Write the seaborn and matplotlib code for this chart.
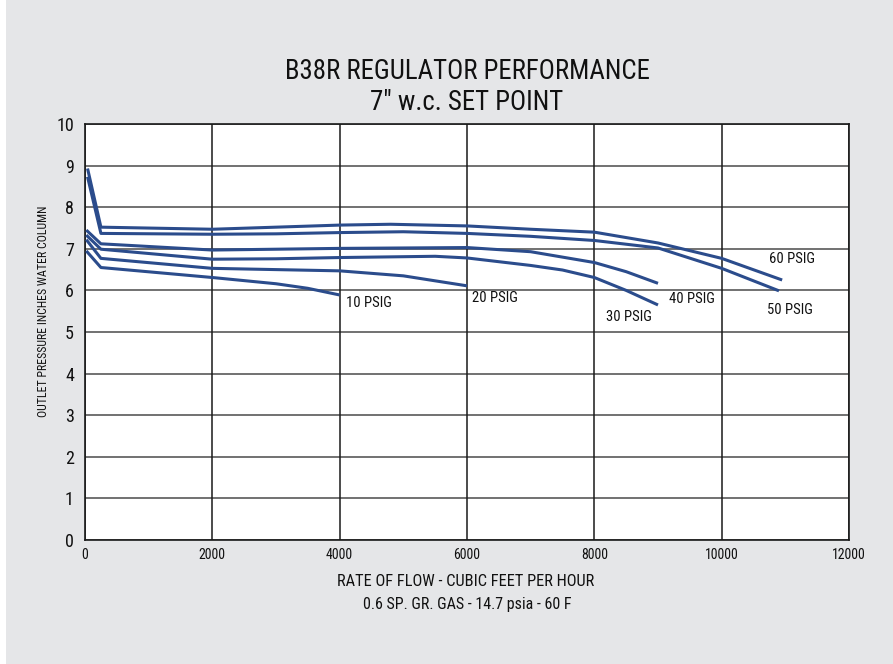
import matplotlib
matplotlib.use("Agg")
import matplotlib.pyplot as plt
from matplotlib.patches import Rectangle
import seaborn as sns
import pandas as pd

# ---- data ----
flow_60 = [40, 250, 2000, 3000, 4000, 4800, 6000, 7000, 8000, 9000, 10000, 10950]
p_60 = [8.93, 7.52, 7.47, 7.52, 7.57, 7.59, 7.55, 7.47, 7.40, 7.14, 6.77, 6.25]

flow_50 = [40, 250, 2000, 3000, 4000, 5000, 6000, 7000, 8000, 9000, 10000, 10900]
p_50 = [8.73, 7.37, 7.35, 7.36, 7.39, 7.41, 7.37, 7.30, 7.20, 7.02, 6.53, 5.99]

flow_40 = [20, 250, 2000, 3000, 4000, 5000, 6000, 7000, 7500, 8000, 8500, 9000]
p_40 = [7.45, 7.12, 6.97, 6.99, 7.01, 7.02, 7.03, 6.93, 6.80, 6.67, 6.45, 6.17]

flow_30 = [20, 250, 2000, 3000, 4000, 5000, 5500, 6000, 7000, 7500, 8000, 8500, 9000]
p_30 = [7.33, 6.99, 6.75, 6.76, 6.79, 6.81, 6.82, 6.78, 6.60, 6.49, 6.31, 6.00, 5.65]

flow_20 = [20, 250, 2000, 3000, 4000, 5000, 6000]
p_20 = [7.22, 6.77, 6.53, 6.50, 6.47, 6.35, 6.11]

flow_10 = [20, 250, 2000, 3000, 3500, 4000]
p_10 = [6.95, 6.55, 6.31, 6.16, 6.05, 5.89]

series_names = ["60 PSIG", "50 PSIG", "40 PSIG", "30 PSIG", "20 PSIG", "10 PSIG"]
label_x = [10740, 10710, 9180, 8180, 6080, 4100]
label_y = [6.75, 5.54, 5.80, 5.35, 5.82, 5.70]

x_ticks = [0, 2000, 4000, 6000, 8000, 10000, 12000]
y_ticks = [0, 1, 2, 3, 4, 5, 6, 7, 8, 9, 10]

title = "B38R REGULATOR PERFORMANCE\n7\" w.c. SET POINT"
x_label = "RATE OF FLOW - CUBIC FEET PER HOUR"
x_label2 = "0.6 SP. GR. GAS - 14.7 psia - 60 F"
y_label = "OUTLET PRESSURE INCHES WATER COLUMN"

# ---- frame ----
flows = [flow_60, flow_50, flow_40, flow_30, flow_20, flow_10]
press = [p_60, p_50, p_40, p_30, p_20, p_10]
rows = []
for name, fx, py in zip(series_names, flows, press):
    for i, (a, b) in enumerate(zip(fx, py)):
        rows.append({"series": name, "flow": a, "pressure": b, "order": i})
df = pd.DataFrame(rows)

sns.set_theme(style="white")
plt.rcParams["font.family"] = ["Roboto Condensed", "Liberation Sans Narrow",
                               "Liberation Sans", "DejaVu Sans"]

BG = "#e5e6e8"
LINE = "#2b4c8c"

fig = plt.figure(figsize=(8.93, 6.64), dpi=100, facecolor=BG)
fig.patches.append(Rectangle((0, 0), 6 / 893, 1, transform=fig.transFigure,
                             facecolor="white", edgecolor="none", zorder=-1))
ax = fig.add_axes([85 / 893, 124 / 664, (849 - 85) / 893, (540 - 124) / 664])
ax.set_facecolor("white")

sns.lineplot(data=df, x="flow", y="pressure", hue="series", units="series",
             estimator=None, sort=False, palette=[LINE] * 6, linewidth=2.2,
             legend=False, ax=ax, zorder=3)
for ln in ax.get_lines():
    ln.set_solid_joinstyle("round")
    ln.set_solid_capstyle("butt")

ax.set_xlim(0, 12000)
ax.set_ylim(0, 10)
ax.set_xticks(x_ticks)
ax.set_yticks(y_ticks)
ax.set_xticklabels([str(t) for t in x_ticks], fontsize=10, color="#111111")
ax.set_yticklabels([str(t) for t in y_ticks], fontsize=13, color="#111111")
ax.tick_params(axis="both", length=0, pad=6)
ax.tick_params(axis="y", pad=8)

for yv in y_ticks:
    ax.axhline(yv, color="#4a4a4a", lw=1.1, zorder=1)
for xv in x_ticks:
    ax.axvline(xv, color="#1a1a1a", lw=1.1, zorder=1)
for s in ax.spines.values():
    s.set_color("#1a1a1a")
    s.set_linewidth(1.2)

ax.set_xlabel("")
ax.set_ylabel("")

for name, lx, ly in zip(series_names, label_x, label_y):
    ax.text(lx, ly, name, fontsize=10.5, ha="left", va="center", color="#111111", zorder=4)

fig.text(467 / 893, 1 - 87 / 664, title, ha="center", va="center",
         fontsize=19.4, color="#111111", linespacing=1.2)
fig.text(466 / 893, 1 - 582 / 664, x_label, ha="center", va="center",
         fontsize=11.8, color="#111111")
fig.text(467 / 893, 1 - 605 / 664, x_label2, ha="center", va="center",
         fontsize=11.5, color="#111111")
fig.text(44 / 893, 1 - 311 / 664, y_label, ha="center", va="center",
         rotation=90, fontsize=8.6, color="#111111")

fig.savefig("out.png", dpi=100, facecolor=BG)
